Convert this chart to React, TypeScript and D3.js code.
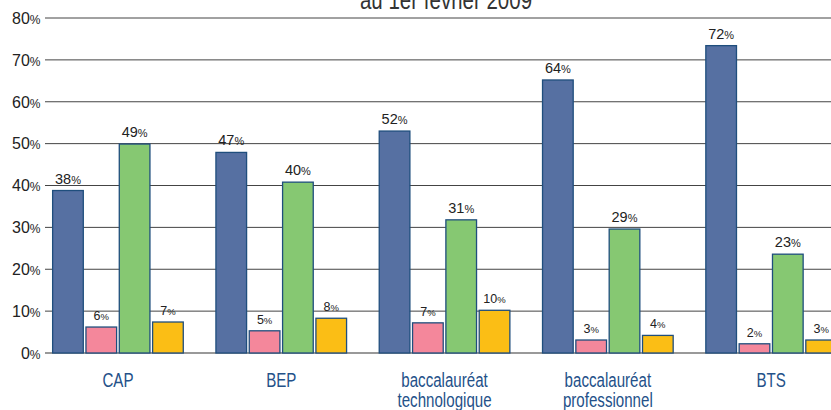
import React, { useEffect } from "react";
import { scaleBand, scaleLinear } from "d3";

// diplômes (axe x)
const categories = ["CAP", "BEP", "baccalauréat technologique", "baccalauréat professionnel", "BTS"];
const categoryLines = [["CAP"], ["BEP"], ["baccalauréat", "technologique"], ["baccalauréat", "professionnel"], ["BTS"]];

// hauteurs des barres et étiquettes affichées
const blueValues = [38.8, 47.9, 53.0, 65.2, 73.4];
const pinkValues = [6.2, 5.3, 7.2, 3.1, 2.2];
const greenValues = [49.9, 40.8, 31.8, 29.6, 23.6];
const yellowValues = [7.4, 8.3, 10.2, 4.2, 3.1];

const blueLabels = ["38", "47", "52", "64", "72"];
const pinkLabels = ["6", "5", "7", "3", "2"];
const greenLabels = ["49", "40", "31", "29", "23"];
const yellowLabels = ["7", "8", "10", "4", "3"];

const yTicks = [0, 10, 20, 30, 40, 50, 60, 70, 80];
const title = "au 1er février 2009";

const series = [
  { key: "bleu", values: blueValues, labels: blueLabels, fill: "#5670a2", big: true },
  { key: "rose", values: pinkValues, labels: pinkLabels, fill: "#f4879b", big: false },
  { key: "vert", values: greenValues, labels: greenLabels, fill: "#86c872", big: true },
  { key: "jaune", values: yellowValues, labels: yellowLabels, fill: "#fbbe15", big: false },
];

const W = 831;
const H = 410;

export default function App() {
  useEffect(() => {
    document.body.style.margin = "0";
  }, []);

  const x0 = scaleBand<string>().domain(categories).range([36.3, 852.8]).paddingInner(0.2).paddingOuter(0.1);
  const x1 = scaleBand<string>()
    .domain(series.map((s) => s.key))
    .range([0, x0.bandwidth()])
    .paddingInner(0.08);
  const y = scaleLinear().domain([0, 80]).range([353, 18]);

  const numFont = "'Liberation Sans', Arial, sans-serif";
  // police étroite simulée : Liberation Sans compressée horizontalement
  const catFont = "'Liberation Sans', Arial, sans-serif";

  return (
    <svg width={W} height={H} style={{ display: "block", background: "#fff" }}>
      <text
        transform="translate(446,9) scale(0.82,1)"
        textAnchor="middle"
        fontFamily={catFont}
        fontSize={25}
        fill="#333"
      >
        {title}
      </text>

      {yTicks.map((t) => (
        <g key={t}>
          <line x1={45} x2={W} y1={y(t)} y2={y(t)} stroke={t === 0 ? "#777" : "#444"} strokeWidth={t === 0 ? 1.5 : 1} />
          <text x={40.5} y={y(t)} dy="0.36em" textAnchor="end" fontFamily={numFont} fontSize={16} fill="#222">
            {t}
            <tspan fontSize={12}>%</tspan>
          </text>
        </g>
      ))}

      {categories.map((c, i) => (
        <g key={c} transform={`translate(${x0(c)},0)`}>
          {series.map((s) => {
            const bx = x1(s.key) as number;
            const v = s.values[i];
            return (
              <g key={s.key}>
                <rect
                  x={bx}
                  y={y(v)}
                  width={x1.bandwidth()}
                  height={y(0) - y(v)}
                  fill={s.fill}
                  stroke="#1f4e7d"
                  strokeWidth={1.3}
                />
                <text
                  x={bx + x1.bandwidth() / 2}
                  y={y(v) - 7}
                  textAnchor="middle"
                  fontFamily={numFont}
                  fontSize={s.big ? 14.5 : 12.5}
                  fill="#222"
                >
                  {s.labels[i]}
                  <tspan fontSize={s.big ? 11 : 9.5}>%</tspan>
                </text>
              </g>
            );
          })}
          {categoryLines[i].map((ln, j) => (
            <text
              key={ln}
              transform={`translate(${x0.bandwidth() / 2},${387 + j * 20}) scale(0.72,1)`}
              textAnchor="middle"
              fontFamily={catFont}
              fontSize={21}
              fill="#245189"
            >
              {ln}
            </text>
          ))}
        </g>
      ))}
    </svg>
  );
}
